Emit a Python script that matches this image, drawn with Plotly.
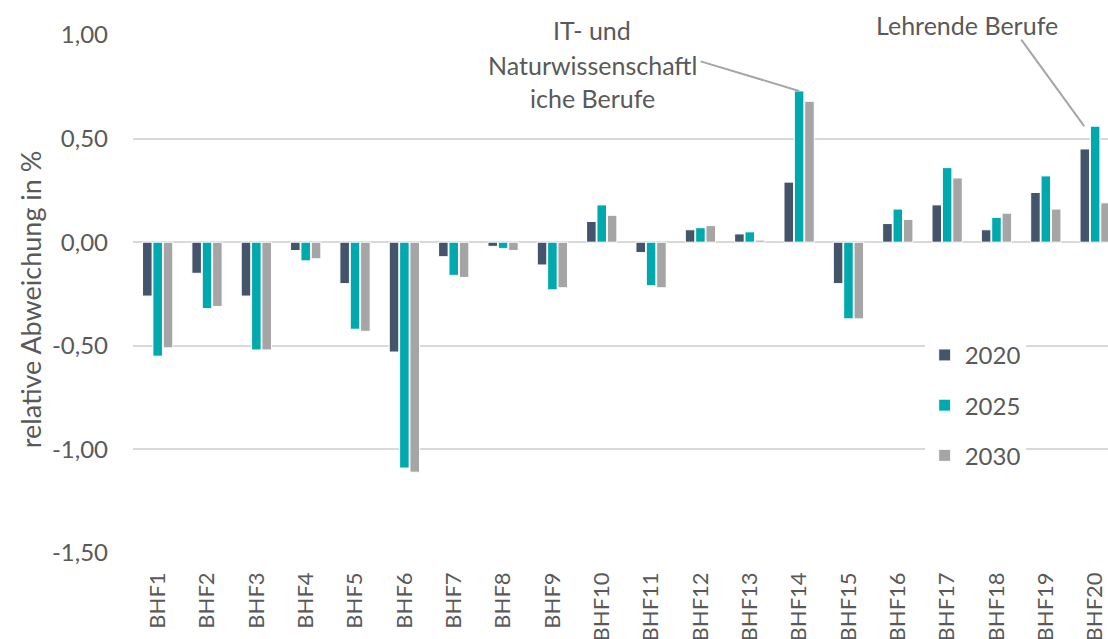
import plotly.graph_objects as go

categories = ["BHF" + str(i) for i in range(1, 21)]
v2020 = [-0.26, -0.15, -0.26, -0.04, -0.20, -0.53, -0.07, -0.02, -0.11, 0.10,
         -0.05, 0.06, 0.04, 0.29, -0.20, 0.09, 0.18, 0.06, 0.24, 0.45]
v2025 = [-0.55, -0.32, -0.52, -0.09, -0.42, -1.09, -0.16, -0.03, -0.23, 0.18,
         -0.21, 0.07, 0.05, 0.73, -0.37, 0.16, 0.36, 0.12, 0.32, 0.56]
v2030 = [-0.51, -0.31, -0.52, -0.08, -0.43, -1.11, -0.17, -0.04, -0.22, 0.13,
         -0.22, 0.08, 0.01, 0.68, -0.37, 0.11, 0.31, 0.14, 0.16, 0.19]
ytick_vals = [-1.5, -1.0, -0.5, 0.0, 0.5, 1.0]
ytick_text = ["-1,50", "-1,00", "-0,50", "0,00", "0,50", "1,00"]

series = [("2020", v2020, "#44546a"), ("2025", v2025, "#00a9ad"), ("2030", v2030, "#a5a5a5")]

font = "Lato, Open Sans, sans-serif"
grey = "#595959"

fig = go.Figure()
for name, vals, col in series:
    fig.add_trace(go.Bar(x=categories, y=vals, name=name, legendgroup=name,
                         marker=dict(color=col, line=dict(color="white", width=1))))

# labels with leader lines
lbl = dict(xref="paper", yref="paper", showarrow=False, xanchor="center", yanchor="middle",
           font=dict(family=font, size=25, color=grey))
fig.add_annotation(x=0.471, y=1.0097, text="IT- und", **lbl)
fig.add_annotation(x=0.471, y=0.942, text="Naturwissenschaftl", **lbl)
fig.add_annotation(x=0.471, y=0.878, text="iche Berufe", **lbl)
fig.add_annotation(x=0.855, y=1.019, text="Lehrende Berufe", **lbl)
fig.add_annotation(x="BHF14", y=0.73, text="", showarrow=True, arrowhead=0, arrowwidth=2,
                   arrowcolor="#a6a6a6", ax=-100, ay=-30, standoff=0, startstandoff=0)
fig.add_annotation(x="BHF20", y=0.56, xshift=-11, text="", showarrow=True, arrowhead=0, arrowwidth=2,
                   arrowcolor="#a6a6a6", ax=-64, ay=-88, standoff=0, startstandoff=0)

# y axis title as rotated text
fig.add_annotation(x=-0.1056, y=0.49, xref="paper", yref="paper", showarrow=False,
                   xanchor="center", yanchor="middle", textangle=-90,
                   text="relative Abweichung in %", font=dict(family=font, size=27, color=grey))

fig.update_layout(
    width=1108, height=639,
    template="none",
    paper_bgcolor="white", plot_bgcolor="white",
    font=dict(family=font, size=22, color=grey),
    margin=dict(l=133, r=0, t=35, b=86),
    barmode="group", bargap=0.37, bargroupgap=0.08,
    legend=dict(x=0.812, y=0.425, xanchor="left", yanchor="top", bgcolor="white",
                tracegroupgap=16, font=dict(size=24, color=grey)),
    xaxis=dict(range=[-0.5, 19.26], tickangle=-90, showgrid=False, showline=False,
               automargin=False, ticks="", ticklabelstandoff=14, tickfont=dict(size=22)),
    yaxis=dict(range=[-1.5, 1.0], tickvals=ytick_vals, ticktext=ytick_text, showgrid=True,
               gridcolor="#d9d9d9", gridwidth=1.5, zeroline=True, zerolinecolor="#d9d9d9",
               zerolinewidth=1.5, showline=False, automargin=False, ticklabelstandoff=24,
               tickfont=dict(size=24)),
)

fig.write_html("out.html", config={"displayModeBar": False},
               post_script="document.body.style.margin='0';")
